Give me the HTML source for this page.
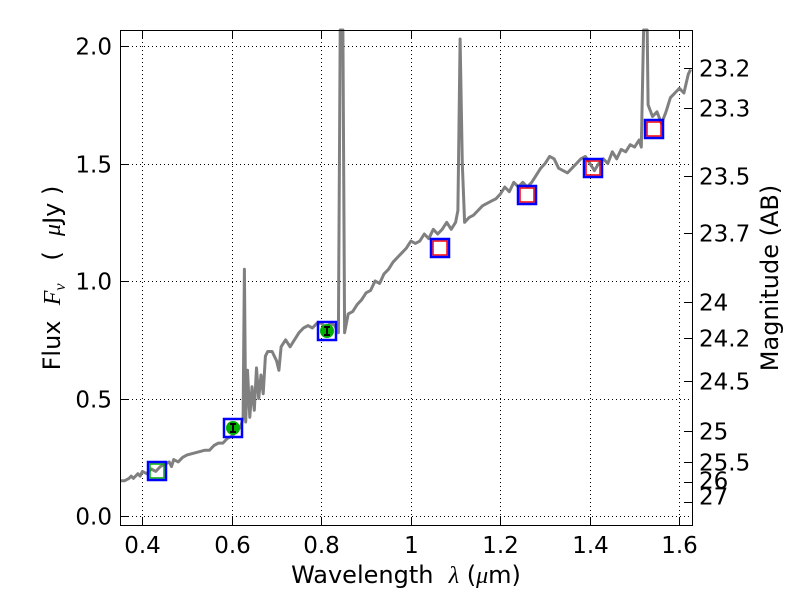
<!DOCTYPE html>
<html><head><meta charset="utf-8"><style>
body{margin:0;background:#fff;}
svg{display:block;font-family:"DejaVu Sans","Liberation Sans",sans-serif;}
text{white-space:pre;}
</style></head><body>
<svg id="s" width="800" height="600" xmlns="http://www.w3.org/2000/svg" xml:space="preserve">
<rect width="800" height="600" fill="#fff"/>
<g id="grid" stroke="#000" stroke-width="1" stroke-dasharray="1,3"></g>
<g id="spec"></g>
<g id="marks"></g>
<rect x="120.5" y="30.5" width="572" height="495" fill="none" stroke="#000" stroke-width="1"/>
<g id="ticks" stroke="#000" stroke-width="1"></g>
<g id="labels" font-size="23" fill="#000"></g>
<text x="406" y="583" font-size="24" text-anchor="middle">Wavelength  <tspan font-style="italic" font-family="Liberation Serif">λ</tspan> (<tspan font-style="italic" font-family="Liberation Serif">μ</tspan>m)</text>
<text transform="translate(60,278) rotate(-90)" font-size="24" text-anchor="middle">Flux  <tspan font-style="italic" font-family="Liberation Serif">F<tspan font-size="16" dy="5">ν</tspan></tspan><tspan dy="-5">   (  </tspan><tspan font-style="italic" font-family="Liberation Serif">μ</tspan>Jy )</text>
<text transform="translate(778,278) rotate(-90)" font-size="24" text-anchor="middle">Magnitude (AB)</text>
</svg>
<script>
var NS="http://www.w3.org/2000/svg";
function X(v){return 120+(v-0.35)*447.5;}
function Y(v){return 516-v*235;}
function el(p,t,a,txt){var e=document.createElementNS(NS,t);for(var k in a)e.setAttribute(k,a[k]);if(txt!==undefined)e.textContent=txt;document.getElementById(p).appendChild(e);return e;}
var xs=[0.4,0.6,0.8,1.0,1.2,1.4,1.6],xl=["0.4","0.6","0.8","1","1.2","1.4","1.6"];
xs.forEach(function(v,i){var x=Math.round(X(v))+0.5;
el("grid","line",{x1:x,x2:x,y1:30,y2:525});
el("ticks","line",{x1:x,x2:x,y1:525,y2:517});el("ticks","line",{x1:x,x2:x,y1:30,y2:38});
el("labels","text",{x:x,y:553,"text-anchor":"middle"},xl[i]);});
var ys=[0,0.5,1.0,1.5,2.0],yl=["0.0","0.5","1.0","1.5","2.0"];
ys.forEach(function(v,i){var y=Math.round(Y(v))+0.5;
el("grid","line",{x1:120,x2:692,y1:y,y2:y});
el("ticks","line",{x1:120,x2:128,y1:y,y2:y});
el("labels","text",{x:112,y:y+8,"text-anchor":"end"},yl[i]);});
var mags=[[23.2,"23.2",0],[23.3,"23.3",0],[23.5,"23.5",0],[23.7,"23.7",0],[24,"24",0],[24.2,"24.2",0],[24.5,"24.5",0],[25,"25",0],[25.5,"25.5",0],[26,"26",-2],[27,"27",-6]];
mags.forEach(function(m){var f=Math.pow(10,(23.9-m[0])/2.5);var y=Math.round(Y(f))+0.5;
el("ticks","line",{x1:684,x2:692,y1:y,y2:y});
el("labels","text",{x:699,y:y+8+m[2]},m[1]);});
var pts=[[0.35,0.15],[0.36,0.15],[0.37,0.16],[0.375,0.17],[0.38,0.16],[0.39,0.18],[0.395,0.17],[0.4,0.19],[0.41,0.18],[0.42,0.2],[0.43,0.19],[0.44,0.21],[0.45,0.22],[0.46,0.23],[0.465,0.21],[0.47,0.24],[0.48,0.23],[0.49,0.25],[0.5,0.26],[0.52,0.27],[0.54,0.28],[0.55,0.28],[0.56,0.3],[0.57,0.31],[0.58,0.31],[0.59,0.33],[0.6,0.34],[0.61,0.36],[0.62,0.38],[0.625,0.42],[0.628,1.05],[0.631,0.4],[0.635,0.62],[0.64,0.42],[0.645,0.55],[0.65,0.45],[0.655,0.63],[0.66,0.5],[0.665,0.6],[0.67,0.52],[0.675,0.68],[0.68,0.7],[0.69,0.7],[0.7,0.66],[0.705,0.62],[0.71,0.72],[0.72,0.75],[0.73,0.72],[0.74,0.75],[0.75,0.78],[0.76,0.8],[0.77,0.81],[0.78,0.8],[0.79,0.82],[0.8,0.82],[0.81,0.8],[0.82,0.82],[0.83,0.81],[0.838,0.78],[0.842,2.2],[0.848,2.2],[0.852,0.78],[0.86,0.86],[0.87,0.87],[0.88,0.9],[0.89,0.92],[0.9,0.95],[0.91,0.96],[0.92,1.0],[0.93,0.99],[0.94,1.03],[0.95,1.05],[0.96,1.08],[0.97,1.1],[0.98,1.12],[0.99,1.14],[1.0,1.17],[1.01,1.16],[1.02,1.17],[1.03,1.2],[1.04,1.18],[1.05,1.22],[1.06,1.2],[1.07,1.22],[1.08,1.25],[1.09,1.22],[1.1,1.25],[1.105,1.3],[1.11,2.03],[1.115,1.5],[1.12,1.25],[1.13,1.27],[1.14,1.28],[1.15,1.3],[1.16,1.32],[1.17,1.33],[1.18,1.34],[1.19,1.35],[1.2,1.37],[1.21,1.4],[1.22,1.38],[1.23,1.42],[1.24,1.4],[1.25,1.42],[1.26,1.4],[1.27,1.42],[1.28,1.45],[1.29,1.48],[1.3,1.5],[1.31,1.53],[1.32,1.52],[1.33,1.48],[1.34,1.47],[1.35,1.46],[1.36,1.48],[1.37,1.5],[1.38,1.52],[1.39,1.53],[1.4,1.5],[1.41,1.47],[1.42,1.5],[1.43,1.52],[1.44,1.5],[1.45,1.55],[1.46,1.52],[1.47,1.56],[1.48,1.55],[1.49,1.58],[1.5,1.57],[1.51,1.6],[1.515,1.57],[1.52,2.2],[1.528,2.2],[1.53,1.75],[1.54,1.7],[1.55,1.72],[1.56,1.67],[1.57,1.72],[1.58,1.78],[1.59,1.8],[1.6,1.82],[1.61,1.8],[1.62,1.88],[1.625,1.9]];
var d=pts.map(function(p,i){return (i?"L":"M")+X(p[0]).toFixed(1)+" "+Math.max(30,Y(p[1])).toFixed(1);}).join("");
el("spec","path",{d:d,fill:"none",stroke:"#808080","stroke-width":3,"stroke-linejoin":"round"});
var mk=[[157,471,"g"],[233,428,"c"],[327,331,"c"],[440,248,"r"],[527,195,"r"],[593,168,"r"],[654,129,"r"]];
mk.forEach(function(m){var x=m[0],y=m[1];
if(m[2]=="g")el("marks","rect",{x:x-7,y:y-7,width:14,height:14,fill:"none",stroke:"#00b000","stroke-width":1.5});
if(m[2]=="r")el("marks","rect",{x:x-7,y:y-7,width:14,height:14,fill:"none",stroke:"#f00","stroke-width":1.5});
if(m[2]=="c"){el("marks","circle",{cx:x,cy:y,r:7,fill:"#00b000"});
el("marks","path",{d:"M"+(x-3)+" "+(y-4)+"h6M"+x+" "+(y-4)+"v8M"+(x-3)+" "+(y+4)+"h6",stroke:"#000","stroke-width":2});}
el("marks","rect",{x:x-9,y:y-9,width:18,height:18,fill:"none",stroke:"#00f","stroke-width":2.5});});
</script>
</body></html>
